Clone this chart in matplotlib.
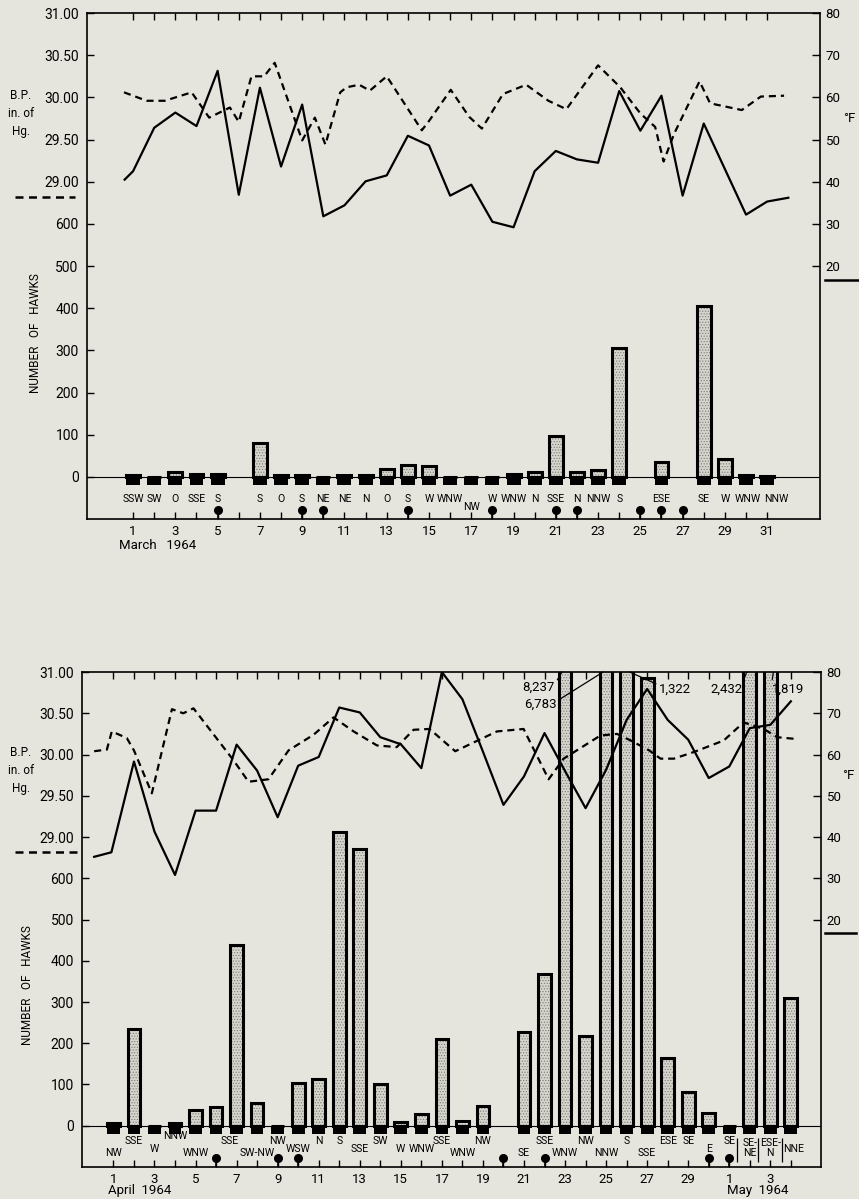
import matplotlib.pyplot as plt
import matplotlib.transforms as mtransforms
from matplotlib.ticker import FormatStrFormatter

plt.rcParams['font.family'] = ['Roboto', 'DejaVu Sans']
plt.rcParams['font.size'] = 10
plt.rcParams['hatch.linewidth'] = 0.5
plt.rcParams['hatch.color'] = '#7a7a72'

PAPER = '#e6e5dd'
STIPPLE = '#d6d5cd'
DASH = (0, (3.2, 2.2))

# ---- March 1964 ----
mar_days = list(range(1, 32))
mar_hawks = [4, 0, 12, 8, 8, None, 80, 5, 5, 0, 5, 4, 18, 28, 26, 0,
             0, 0, 6, 12, 98, 12, 16, 306, None, 35, None, 405, 42, 5, 3]
mar_wind = ['SSW', 'SW', 'O', 'SSE', 'S', '', 'S', 'O', 'S', 'NE', 'NE',
            'N', 'O', 'S', 'W', 'WNW', 'NW', 'W', 'WNW', 'N', 'SSE', 'N',
            'NNW', 'S', '', 'ESE', '', 'SE', 'W', 'WNW', 'NNW']
mar_rain = [5, 9, 10, 14, 18, 21, 22, 25, 26, 27]
mar_temp_day = [0.6] + list(range(1, 33))
mar_temp = [40.5, 42.5, 52.8, 56.4, 53.2, 66.3, 36.9, 62.3, 43.6, 58.3,
            31.8, 34.4, 40.1, 41.5, 50.9, 48.6, 36.7, 39.3, 30.5, 29.2,
            42.5, 47.3, 45.3, 44.5, 61.5, 52.1, 60.4, 36.7, 53.8, 43.0,
            32.2, 35.3, 36.2]
mar_bp_day = [0.57, 1.64, 2.5, 3.77, 4.6, 5.58, 6.0, 6.6, 7.2, 7.7, 9.0,
              9.6, 10.1, 10.8, 11.1, 11.7, 12.2, 13.0, 14.66, 15.0, 16.03,
              16.9, 17.5, 18.5, 19.6, 20.65, 21.5, 23.0, 24.05, 25.0, 25.7,
              26.1, 26.6, 27.8, 28.3, 29.8, 30.7, 31.8]
mar_bp = [30.06, 29.96, 29.96, 30.06, 29.76, 29.88, 29.71, 30.25, 30.25,
          30.41, 29.49, 29.76, 29.44, 30.06, 30.12, 30.15, 30.08, 30.25,
          29.61, 29.72, 30.09, 29.77, 29.63, 30.04, 30.15, 29.96, 29.86,
          30.38, 30.12, 29.81, 29.65, 29.24, 29.57, 30.19, 29.93, 29.85,
          30.01, 30.02]

# ---- April / early May 1964 (31 = May 1) ----
apr_days = list(range(1, 35))
apr_hawks = [6, 234, 0, 6, 39, 45, 437, 56, 0, 103, 114, 713, 670, 101, 8,
             29, 211, 12, 49, None, 227, 368, 8237, 218, 6783, 1322, 1085,
             164, 81, 31, 0, 2432, 1819, 310]
apr_wind = ['NW', 'SSE', 'W', 'NNW', 'WNW', '', 'SSE', 'SW-NW', 'NW', 'WSW',
            'N', 'S', 'SSE', 'SW', 'W', 'WNW', 'SSE', 'WNW', 'NW', '', 'SE',
            'SSE', 'WNW', 'NW', 'NNW', 'S', 'SSE', 'ESE', 'SE', 'E', 'SE',
            'SE-\nNE', 'ESE-\nN', 'NNE']
apr_rain = [6, 9, 10, 20, 22, 30, 31]
apr_temp_day = [0.06, 0.9] + list(range(2, 35))
apr_temp = [35.2, 36.3, 58.3, 41.3, 30.8, 46.4, 46.4, 62.4, 56.1, 44.8,
            57.3, 59.4, 71.4, 70.2, 64.2, 62.5, 56.7, 80.0, 73.4, 60.7,
            47.8, 54.7, 65.2, 56.0, 47.0, 56.3, 68.4, 75.9, 68.4, 63.6,
            54.3, 57.1, 66.4, 67.2, 72.9]
apr_bp_day = [0.06, 0.68, 0.92, 1.65, 2.0, 2.87, 3.85, 4.4, 4.9, 6.85, 7.58,
              8.55, 9.53, 10.75, 11.72, 12.7, 13.84, 14.8, 15.62, 16.4,
              17.65, 19.68, 20.98, 22.2, 22.93, 24.72, 25.53, 26.2, 27.1,
              27.65, 28.3, 29.27, 30.73, 31.7, 32.68, 33.33, 34.2]
apr_bp = [30.04, 30.06, 30.28, 30.20, 30.05, 29.53, 30.55, 30.50, 30.56,
          29.93, 29.67, 29.70, 30.05, 30.24, 30.45, 30.28, 30.11, 30.09,
          30.30, 30.31, 30.04, 30.28, 30.31, 29.70, 29.95, 30.23, 30.25,
          30.17, 30.05, 29.95, 29.95, 30.03, 30.17, 30.39, 30.31, 30.21,
          30.19]

# wind label heights below the zero line, per day
ROW = {'t': -24, 'u': -38, 'c': -54, 'm': -56, 'l': -67, 's': -52, 'n': -71}
mar_rows = 'ssssssssssssssssnssssssssssssss'
apr_rows = 'lumtl ulumuumummulu lulululuumuccm'
# small sideways nudges for crowded labels
label_nudge = {('apr', 7): -0.35, ('apr', 34): 0.15,
               ('mar', 30): 0.1, ('mar', 31): 0.45}

# where the off-scale counts are written
big_label_pos = {23: (21.7, 1062, (1, 0.75)), 25: (21.8, 1023, (1, 0.7)),
                 26: (28.35, 1059, (0, 0.8)), 32: (30.85, 1059, (1, 0.9)),
                 33: (33.85, 1059, (0, 0.9))}


def draw_panel(fig, rect, xlim, name, days, hawks, wind, rows, rain,
               temp_day, temp, bp_day, bp, tick_days, odd_labels, bar_w):
    ax = fig.add_axes(rect)
    ax.set_facecolor('none')
    ax.set_xlim(*xlim)
    ax.set_ylim(-100, 1100)
    for s in ax.spines.values():
        s.set_linewidth(1.2)

    ax.axhline(0, color='k', lw=0.8, zorder=1)

    bd = [d for d, h in zip(days, hawks) if h is not None]
    bh = [h for h in hawks if h is not None]
    ax.bar(bd, [20] * len(bd), bottom=-20, width=bar_w, color='k', zorder=3)
    ax.bar(bd, bh, width=bar_w, color=STIPPLE, hatch='......', lw=0,
           zorder=2)
    ax.bar(bd, bh, width=bar_w, fill=False, edgecolor='k', lw=2.2, zorder=3)

    # rain days
    ax.vlines(rain, -100, -78, colors='k', lw=1.2, zorder=4)
    ax.plot(rain, [-78] * len(rain), 'o', color='k', ms=5.5, zorder=4)

    for d, w, r in zip(days, wind, rows):
        if w:
            ax.text(d + label_nudge.get((name, d), 0), ROW[r], w,
                    ha='center', va='center', fontsize=7.6,
                    linespacing=1.1, zorder=5)

    ax.set_xticks(tick_days, minor=True)
    ax.set_xticks(tick_days[::2])
    ax.set_xticklabels(odd_labels)
    ax.tick_params(axis='x', which='both', direction='in', top=True,
                   bottom=True, length=5, width=1, labelsize=9.5, pad=4)
    ax.set_yticks(range(0, 700, 100))
    ax.tick_params(axis='y', direction='in', length=5, width=1,
                   labelsize=10, pad=6)

    # barometric pressure on the upper part of the left scale
    axp = ax.twinx()
    axp.set_ylim(25, 31)
    axp.yaxis.tick_left()
    axp.set_yticks([29, 29.5, 30, 30.5, 31])
    axp.yaxis.set_major_formatter(FormatStrFormatter('%.2f'))
    axp.tick_params(axis='y', direction='in', length=5, width=1,
                    labelsize=10, pad=6)
    for s in axp.spines.values():
        s.set_visible(False)
    axp.plot(bp_day, bp, color='k', lw=1.6, linestyle=DASH)

    # temperature on the right scale
    axt = ax.twinx()
    axt.set_ylim(-40, 80)
    axt.set_yticks(range(20, 90, 10))
    axt.tick_params(axis='y', direction='in', length=6, width=1,
                    labelsize=9.5, pad=4)
    for s in axt.spines.values():
        s.set_visible(False)
    axt.plot(temp_day, temp, color='k', lw=1.6)
    return ax, axp, axt


fig = plt.figure(figsize=(8.59, 11.99), dpi=100, facecolor=PAPER)

# ---------- March ----------
odd = list(range(1, 32, 2))
ax1, axp1, axt1 = draw_panel(
    fig, [0.1013, 0.5671, 0.8533, 0.4220], (-1.18, 33.5), 'mar', mar_days,
    mar_hawks, mar_wind, mar_rows, mar_rain, mar_temp_day, mar_temp,
    mar_bp_day, mar_bp, list(range(1, 32)), [str(d) for d in odd], 0.66)
ax1.text(0.35, -162, 'March   1964', ha='left', va='center', fontsize=9.5)

# ---------- April ----------
tick_apr = list(range(1, 35))
apr_labels = [str(d if d <= 30 else d - 30) for d in tick_apr[::2]]
ax2, axp2, axt2 = draw_panel(
    fig, [0.0955, 0.0267, 0.8603, 0.4128], (-0.53, 35.47), 'apr', apr_days,
    apr_hawks, apr_wind, apr_rows, apr_rain, apr_temp_day, apr_temp,
    apr_bp_day, apr_bp, tick_apr, apr_labels, 0.62)
ax2.text(0.75, -157, 'April  1964', ha='left', va='center', fontsize=9.5,
         clip_on=False)
ax2.text(30.9, -157, 'May  1964', ha='left', va='center', fontsize=9.5,
         clip_on=False)
ax2.vlines([31.4, 32.4, 33.58], -29, -87, colors='k', lw=0.9)

for d, h in zip(apr_days, apr_hawks):
    if h is not None and h > 1100:
        tx, ty, rel = big_label_pos[d]
        edge = d - 0.15 if rel[0] == 1 else d + 0.15
        ax2.annotate(f'{h:,}', xy=(edge, 1100), xytext=(tx, ty),
                     ha='center', va='center', fontsize=9.5,
                     annotation_clip=False,
                     arrowprops=dict(arrowstyle='-', lw=0.9, color='k',
                                     relpos=rel, shrinkA=0, shrinkB=0))

# axis captions and line keys
for ax, axt, xa, xh, xf, kl, kr in [
        (ax1, axt1, -0.090, -0.070, 1.040, (-0.098, -0.016), (1.007, 1.053)),
        (ax2, axt2, -0.083, -0.074, 1.037, (-0.091, -0.005), (1.005, 1.047))]:
    tr = mtransforms.blended_transform_factory(ax.transAxes, ax.transData)
    trt = mtransforms.blended_transform_factory(axt.transAxes, axt.transData)
    ax.text(xa, 862, 'B.P.\nin. of\nHg.', transform=tr, ha='center',
            va='center', fontsize=8.5, linespacing=1.5)
    ax.text(xh, 340, 'NUMBER   OF   HAWKS', transform=tr, ha='center',
            va='center', rotation=90, fontsize=8.5)
    axt.text(xf, 55, '°F', transform=trt, ha='center', va='center',
             fontsize=9.5)
    ax.plot(kl, [664, 664], color='k', lw=1.8, linestyle=DASH,
            transform=tr, clip_on=False)
    ax.plot(kr, [468, 468], color='k', lw=1.8, transform=tr, clip_on=False)

fig.savefig('out.png', dpi=100, facecolor=PAPER)
